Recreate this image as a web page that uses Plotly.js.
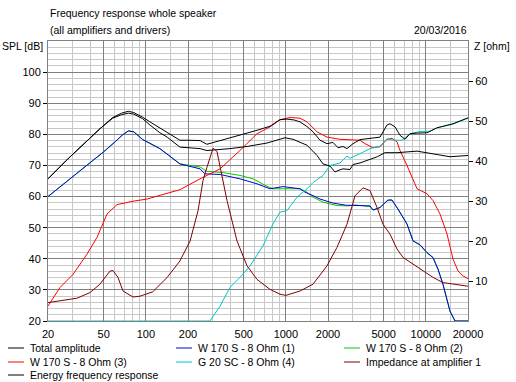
<!DOCTYPE html>
<html><head><meta charset="utf-8">
<script src="https://cdn.plot.ly/plotly-3.0.1.min.js"></script>
<style>html,body{margin:0;padding:0;background:#fff;}#chart{width:516px;height:382px;}</style>
</head><body><div id="chart"></div>
<script>
// ---- data ----
const xTickVals = [20, 50, 100, 200, 500, 1000, 2000, 5000, 10000, 20000];
const xTickText = ["20", "50", "100", "200", "500", "1000", "2000", "5000", "10000", "20000"];
const xMinorVals = [30, 40, 60, 70, 80, 90, 150, 300, 400, 600, 700, 800, 900, 1500, 3000, 4000, 6000, 7000, 8000, 9000, 15000];
const ySplTicks = [20, 30, 40, 50, 60, 70, 80, 90, 100];
const yOhmTicks = [10, 20, 30, 40, 50, 60];

const totalF = [20, 27, 47, 58, 67, 75, 82, 95, 107, 126, 142, 175, 200, 244, 273, 330, 399, 500, 622, 771, 908, 1019, 1150, 1262, 1416, 1563, 1754, 1968, 2171, 2357, 2558, 2733, 3017, 3386, 3991, 4704, 5277, 5546, 6021, 6535, 7096, 7706, 8650, 10190, 12010, 15631, 20000];
const totalV = [65.7, 71.6, 81.8, 85.4, 86.8, 87.4, 87.0, 85.5, 84.0, 82.0, 80.8, 78.1, 78.1, 78.0, 76.8, 77.8, 78.8, 80.0, 81.3, 82.6, 84.7, 84.9, 84.6, 84.0, 82.5, 80.8, 78.1, 77.0, 77.4, 75.7, 76.1, 75.4, 77.0, 78.3, 78.6, 79.1, 83.0, 83.4, 82.4, 79.7, 78.4, 80.2, 80.4, 80.5, 82.1, 83.4, 85.3];

const energyF = [20, 27, 47, 58, 67, 75, 82, 95, 107, 126, 142, 175, 244, 273, 399, 528, 733, 986, 1125, 1416, 1670, 1842, 2067, 2244, 2436, 2558, 2871, 3017, 3386, 3798, 4500, 5108, 6222, 8650, 10706, 14873, 20000];
const energyV = [65.7, 71.6, 81.8, 85.2, 86.3, 86.8, 86.5, 85.0, 83.0, 80.5, 79.1, 75.9, 75.4, 74.8, 75.4, 76.1, 77.2, 78.9, 78.4, 76.5, 73.2, 70.5, 69.8, 67.9, 68.6, 68.9, 68.7, 70.3, 70.8, 71.6, 72.8, 74.1, 74.1, 74.6, 73.9, 72.8, 73.2];

const w1F = [20, 30, 40, 50, 60, 68, 75, 82, 95, 126, 175, 244, 264, 339, 470, 622, 771, 954, 1262, 1370, 1563, 1754, 2171, 2700, 3386, 3991, 4193, 4704, 5365, 5728, 6325, 7332, 8093, 9081, 10190, 11247, 12208, 13257, 14873, 16148, 20000];
const w1V = [60.0, 66.3, 71.0, 74.4, 77.5, 79.8, 81.1, 80.8, 78.3, 75.4, 70.5, 68.9, 67.3, 67.1, 65.7, 64.1, 62.5, 63.2, 62.5, 61.4, 60.3, 59.2, 57.9, 57.2, 57.1, 57.0, 55.7, 56.5, 58.9, 58.9, 56.0, 51.2, 45.8, 44.5, 42.0, 40.4, 36.7, 31.8, 23.2, 20.0, 20.0];

const w2F = [20, 30, 40, 50, 60, 68, 75, 82, 95, 126, 175, 244, 273, 356, 470, 583, 733, 810, 1262, 1416, 1563, 1842, 2318, 2733, 3118, 3386, 3991, 4193, 4704, 5365, 5728, 6325, 7332, 8093, 9081, 10190, 11247, 12208, 13257, 14873, 16148, 20000];
const w2V = [60.0, 66.3, 71.0, 74.4, 77.5, 79.8, 81.1, 80.8, 78.3, 75.4, 70.5, 69.5, 68.1, 67.7, 66.8, 65.7, 63.3, 62.5, 62.5, 61.4, 59.8, 58.2, 57.1, 57.0, 57.3, 57.1, 56.8, 55.6, 56.4, 58.8, 58.8, 55.9, 51.1, 45.7, 44.4, 41.9, 40.3, 36.6, 31.7, 23.1, 20.0, 20.0];

const w3F = [20, 24.4, 30.2, 38, 44.8, 52.8, 62.2, 80.9, 102, 142, 175, 244, 339, 470, 622, 771, 908, 1071, 1262, 1416, 1670, 1968, 2436, 3386, 3676, 4193, 4704, 5277, 5728, 6222, 6535, 7332, 8093, 8650, 10190, 11247, 12619, 14159, 15631, 16965, 18417, 20000];
const w3V = [24.8, 30.8, 35.0, 41.5, 46.9, 54.4, 57.4, 58.5, 59.2, 60.9, 62.2, 65.7, 68.9, 74.8, 80.2, 82.4, 84.7, 85.4, 85.2, 84.0, 80.8, 79.1, 78.4, 78.1, 77.0, 75.7, 76.0, 78.4, 78.7, 77.6, 74.8, 70.0, 65.2, 62.5, 60.9, 58.7, 54.4, 48.0, 39.9, 36.1, 34.5, 33.6];

const g20F = [20, 287, 339, 399, 470, 555, 687, 810, 908, 1019, 1201, 1326, 1416, 1563, 1842, 2067, 2436, 2733, 2871, 3386, 3991, 4704, 5277, 5823, 6756, 7706, 9081, 10706, 12010, 15631, 20000];
const g20V = [20.0, 20.0, 24.8, 30.8, 34.0, 37.7, 44.2, 51.2, 55.0, 55.5, 59.8, 61.4, 62.5, 64.5, 66.8, 70.0, 70.8, 73.0, 72.3, 73.8, 75.4, 76.2, 78.6, 78.1, 78.1, 80.2, 80.9, 81.0, 82.1, 83.3, 85.2];

const impF = [20, 24.4, 32.2, 39.9, 47, 55.5, 58.3, 63.2, 68.7, 80.9, 90.8, 112, 142, 175, 207, 236, 256, 273, 302, 322, 356, 380, 448, 528, 622, 771, 908, 1000, 1262, 1563, 1968, 2318, 2733, 3118, 3557, 3991, 4477, 4942, 5546, 6222, 6868, 8093, 9542, 11247, 13257, 16681, 20000];
const impV = [4.6, 5.0, 5.7, 7.1, 9.2, 12.5, 12.6, 10.9, 7.5, 6.0, 6.2, 7.3, 10.9, 15.0, 20.0, 27.6, 35.1, 38.4, 43.2, 42.4, 35.1, 30.1, 20.0, 13.8, 10.4, 7.9, 6.7, 6.4, 7.5, 9.2, 13.8, 18.4, 24.2, 31.3, 33.3, 32.6, 28.4, 24.2, 21.7, 18.0, 15.9, 14.2, 12.5, 10.9, 9.6, 9.2, 8.7];

const legendNames = ["Total amplitude", "W 170 S - 8 Ohm (1)", "W 170 S - 8 Ohm (2)", "W 170 S - 8 Ohm (3)", "G 20 SC - 8 Ohm (4)", "Impedance at amplifier 1", "Energy frequency response"];
const legendColors = ["#000000", "#0000dc", "#00cc00", "#ff0000", "#00c8c8", "#800000", "#000000"];

// ---- geometry helpers (plot area in pixels) ----
const L = 48, R = 468, T = 41, B = 321;
const px = x => (x - L) / (R - L);
const py = y => (B - y) / (B - T);

const FONT = "Liberation Sans, Arial, sans-serif";

function tr(f, v, name, color, yaxis) {
  return {x: f, y: v, name: name, type: "scatter", mode: "lines",
          line: {color: color, width: 1}, yaxis: yaxis || "y", hoverinfo: "skip"};
}

const data = [
  tr(w2F, w2V, legendNames[2], legendColors[2]),
  tr(w1F, w1V, legendNames[1], legendColors[1]),
  tr(w3F, w3V, legendNames[3], legendColors[3]),
  tr(g20F, g20V, legendNames[4], legendColors[4]),
  tr(impF, impV, legendNames[5], legendColors[5], "y2"),
  tr(energyF, energyV, legendNames[6], legendColors[6]),
  tr(totalF, totalV, legendNames[0], legendColors[0])
];

const annotations = [];
const shapes = [];
function txt(text, x, y, anchor) {
  annotations.push({text: text, xref: "paper", yref: "paper", x: px(x), y: py(y),
    xanchor: anchor || "left", yanchor: "middle", showarrow: false,
    font: {family: FONT, size: 10.5, color: "#000"}});
}
txt("Frequency response whole speaker", 48, 13);
txt("(all amplifiers and drivers)", 48, 30);
txt("20/03/2016", 469, 30, "right");
txt("SPL [dB]", 45, 46, "right");
txt("Z [ohm]", 472, 46, "left");

const legCols = [8, 176, 344];
const legRows = [348, 362, 375];
for (let i = 0; i < legendNames.length; i++) {
  const c = legCols[i % 3], r = legRows[Math.floor(i / 3)];
  shapes.push({type: "line", xref: "paper", yref: "paper", x0: px(c), x1: px(c + 16), y0: py(r), y1: py(r),
    line: {color: legendColors[i], width: 1}});
  txt(legendNames[i], c + 20, r);
}

const layout = {
  width: 516, height: 382,
  margin: {l: L, r: 516 - R, t: T, b: 382 - B, pad: 0},
  paper_bgcolor: "#ffffff", plot_bgcolor: "#ffffff",
  showlegend: false,
  font: {family: FONT, size: 11, color: "#000"},
  xaxis: {type: "log", range: [Math.log10(20), Math.log10(20000)], tickmode: "array",
    tickvals: xTickVals, ticktext: xTickText, ticks: "", ticklabelstandoff: 3, showgrid: true, gridcolor: "#808080", gridwidth: 1,
    minor: {tickmode: "array", tickvals: xMinorVals, showgrid: true, gridcolor: "#c8c8c8", gridwidth: 1, ticks: ""},
    showline: true, linecolor: "#808080", linewidth: 1, mirror: true, zeroline: false,
    tickfont: {family: FONT, size: 11, color: "#000"}, automargin: false, fixedrange: true},
  yaxis: {range: [20, 110], tickmode: "array", tickvals: ySplTicks, ticks: "outside", ticklen: 4, tickcolor: "#000",
    showgrid: true, gridcolor: "#808080", gridwidth: 1,
    minor: {dtick: 2, tick0: 20, showgrid: true, gridcolor: "#c8c8c8", gridwidth: 1, ticks: ""},
    showline: true, linecolor: "#808080", linewidth: 1, mirror: true, zeroline: false,
    tickfont: {family: FONT, size: 11, color: "#000"}, automargin: false, fixedrange: true},
  yaxis2: {range: [0, 70], overlaying: "y", side: "right", tickmode: "array", tickvals: yOhmTicks,
    ticks: "outside", ticklen: 4, tickcolor: "#000", showgrid: false, zeroline: false, showline: false,
    tickfont: {family: FONT, size: 11, color: "#000"}, automargin: false, fixedrange: true},
  annotations: annotations,
  shapes: shapes
};

Plotly.newPlot("chart", data, layout, {staticPlot: true, displayModeBar: false});
</script>
</body></html>
